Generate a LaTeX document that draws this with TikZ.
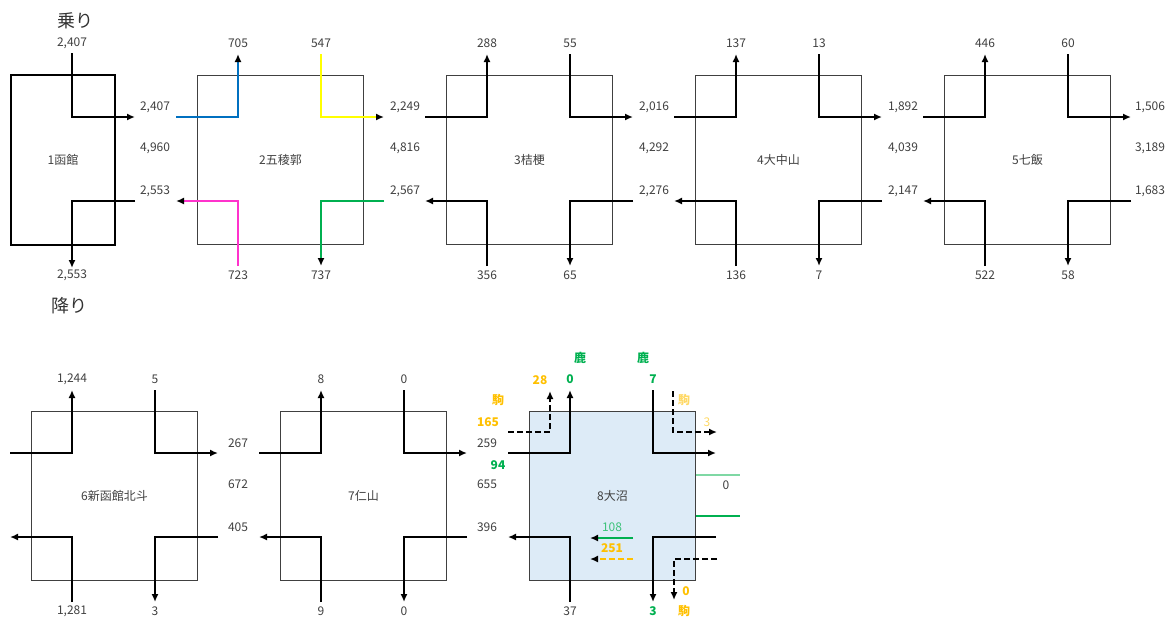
\documentclass[tikz,border=0pt]{standalone}
\usepackage{fontspec}
\setmainfont{Noto Sans CJK JP}
\usepackage{tikz}
\usetikzlibrary{arrows.meta,calc,positioning}
\definecolor{numgray}{HTML}{404040}
\definecolor{flowblue}{HTML}{0070C0}
\definecolor{flowyellow}{HTML}{FFFF00}
\definecolor{flowpink}{HTML}{FF33CC}
\definecolor{flowgreen}{HTML}{00B050}
\definecolor{paleflowgreen}{HTML}{7FD8A4}
\definecolor{numbergreen}{HTML}{3CC27A}
\definecolor{komaorange}{HTML}{FFC000}
\definecolor{paleorange}{HTML}{FFD966}
\definecolor{boxblue}{HTML}{DDEBF7}
\tikzset{
  flow/.style={black, line width=2pt, -{Latex[length=8pt,width=7pt]}},
  dashflow/.style={black, line width=1.6pt, dash pattern=on 6pt off 3pt, -{Latex[length=8pt,width=7pt]}},
  colflow/.style={draw=#1, line width=2.6pt, -{Latex[length=8pt,width=7pt,color=black]}},
  stbox/.style={draw=black!75, line width=1.1pt, minimum width=166pt, minimum height=169pt, anchor=north west, inner sep=0pt, text=numgray, font=\fontsize{12}{14}\selectfont},
  num/.style={text=numgray, font=\fontsize{12}{14}\selectfont, inner sep=0pt},
  bnum/.style={font=\bfseries\fontsize{12}{14}\selectfont, inner sep=0pt},
  title/.style={text=black!80, font=\fontsize{18}{22}\selectfont, inner sep=0pt}
}
\begin{document}
\begin{tikzpicture}[x=1pt, y=-1pt]
  \useasboundingbox (0,0) rectangle (1172,619);
  % titles
  \node[title] (ride) at (75,21) {乗り};
  \node[title] (alight) at (69,306) {降り};
  % station 1
  \node[draw=black, line width=2pt, minimum width=104pt, minimum height=170pt, anchor=north west, num] (s1) at (10,74) {1函館};
  \coordinate (s1-nw) at (72,53);
  \coordinate (s1-eo) at (135,117);
  \coordinate (s1-ei) at (135,201);
  \coordinate (s1-sw) at (72,268);
  \draw[flow] (s1-nw) |- (s1-eo);
  \draw[flow] (s1-ei) -| (s1-sw);
  \node[num] (s1-ult) at ($(s1-nw)+(0,-10)$) {2,407};
  \node[num] (s1-dlt) at ($(s1-sw)+(0,7)$) {2,553};
  % stations 2 to 8
  \foreach \n/\L/\T/\name/\bg in {2/197/75/2五稜郭/white, 3/446/75/3桔梗/white, 4/695/75/4大中山/white, 5/944/75/5七飯/white, 6/31/411/6新函館北斗/white, 7/280/411/7仁山/white, 8/529/411/8大沼/boxblue}{
    \node[stbox, fill=\bg] (s\n) at (\L,\T) {\name};
    \coordinate (s\n-wi) at (\L-21,\T+42);
    \coordinate (s\n-nw) at (\L+41,\T-21);
    \coordinate (s\n-ne) at (\L+124,\T-21);
    \coordinate (s\n-eo) at (\L+187,\T+42);
    \coordinate (s\n-ei) at (\L+187,\T+126);
    \coordinate (s\n-se) at (\L+124,\T+191);
    \coordinate (s\n-sw) at (\L+41,\T+191);
    \coordinate (s\n-wo) at (\L-21,\T+126);
  }
  \draw[colflow=flowblue] (s2-wi) -| (s2-nw);
  \draw[colflow=flowyellow] (s2-ne) |- (s2-eo);
  \draw[colflow=flowpink] (s2-sw) |- (s2-wo);
  \draw[colflow=flowgreen] (s2-ei) -| (s2-se);
  \foreach \n in {3,...,8}{
    \draw[flow] (s\n-wi) -| (s\n-nw);
    \draw[flow] (s\n-ne) |- (s\n-eo);
    \draw[flow] (s\n-sw) |- (s\n-wo);
    \draw[flow] (s\n-ei) -| (s\n-se);
  }
  \foreach \n/\ul/\ur/\dl/\dr in {2/705/547/723/737, 3/288/55/356/65, 4/137/13/136/7, 5/446/60/522/58, 6/{1,244}/5/{1,281}/3, 7/8/0/9/0}{
    \node[num] (s\n-ult) at ($(s\n-nw)+(0,-11)$) {\ul};
    \node[num] (s\n-urt) at ($(s\n-ne)+(0,-11)$) {\ur};
    \node[num] (s\n-dlt) at ($(s\n-sw)+(0,9)$) {\dl};
    \node[num] (s\n-drt) at ($(s\n-se)+(0,9)$) {\dr};
  }
  % counts between stations
  \foreach \gx/\gy/\a/\b/\c [count=\i] in {155/75/{2,407}/{4,960}/{2,553}, 405/75/{2,249}/{4,816}/{2,567}, 654/75/{2,016}/{4,292}/{2,276}, 903/75/{1,892}/{4,039}/{2,147}, 1150/75/{1,506}/{3,189}/{1,683}, 238/411/267/672/405, 487/411/259/655/396}{
    \node[num] (g\i-a) at (\gx,\gy+32) {\a};
    \node[num] (g\i-b) at (\gx,\gy+73) {\b};
    \node[num] (g\i-c) at (\gx,\gy+116) {\c};
  }
  % station 8 extra flows
  \coordinate (s8-dwi) at (508,432);
  \coordinate (s8-dnw) at (550,391);
  \coordinate (s8-dne) at (673,391);
  \coordinate (s8-deo) at (717,432);
  \coordinate (s8-dei) at (717,559);
  \coordinate (s8-dse) at (674,600);
  \draw[dashflow] (s8-dwi) -| (s8-dnw);
  \draw[dashflow] (s8-dne) |- (s8-deo);
  \draw[dashflow] (s8-dei) -| (s8-dse);
  \coordinate (s8-gi) at (633,538);
  \coordinate (s8-go) at (590,538);
  \coordinate (s8-oi) at (633,559);
  \coordinate (s8-oo) at (590,559);
  \draw[colflow=flowgreen, line width=2pt] (s8-gi) -- (s8-go);
  \draw[colflow=komaorange, line width=1.6pt, dash pattern=on 6pt off 3pt] (s8-oi) -- (s8-oo);
  \coordinate (s8-l1a) at (696,475);
  \coordinate (s8-l1b) at (740,475);
  \coordinate (s8-l2a) at (696,516);
  \coordinate (s8-l2b) at (740,516);
  \draw[paleflowgreen, line width=1.2pt] (s8-l1a) -- (s8-l1b);
  \draw[flowgreen, line width=1.2pt] (s8-l2a) -- (s8-l2b);
  % station 8 labels
  \node[bnum, text=flowgreen] (s8-ult) at ($(s8-nw)+(0,-11)$) {0};
  \node[bnum, text=flowgreen] (s8-urt) at ($(s8-ne)+(0,-11)$) {7};
  \node[num] (s8-dlt) at ($(s8-sw)+(0,9)$) {37};
  \node[bnum, text=flowgreen] (s8-drt) at ($(s8-se)+(0,9)$) {3};
  \node[bnum, text=flowgreen] (deer-l) at ($(s8-nw)+(10,-32)$) {鹿};
  \node[bnum, text=flowgreen] (deer-r) at ($(s8-ne)+(-10,-32)$) {鹿};
  \node[bnum, text=komaorange] (koma-ul) at (540,380) {28};
  \node[bnum, text=komaorange] (koma-l) at (498,400) {駒};
  \node[bnum, text=paleorange] (koma-r) at (684,400) {駒};
  \node[bnum, text=komaorange] (koma-wi) at (488,422) {165};
  \node[num, text=paleorange] (koma-eo) at (707,422) {3};
  \node[bnum, text=flowgreen] (deer-wi) at (498,465) {94};
  \node[num] (s8-east) at (726,485) {0};
  \node[num, text=numbergreen] (deer-wo) at (612,527) {108};
  \node[bnum, text=komaorange] (koma-wo) at (612,548) {251};
  \node[bnum, text=komaorange] (koma-dr) at (686,591) {0};
  \node[bnum, text=komaorange] (koma-d) at (684,611) {駒};
\end{tikzpicture}
\end{document}
